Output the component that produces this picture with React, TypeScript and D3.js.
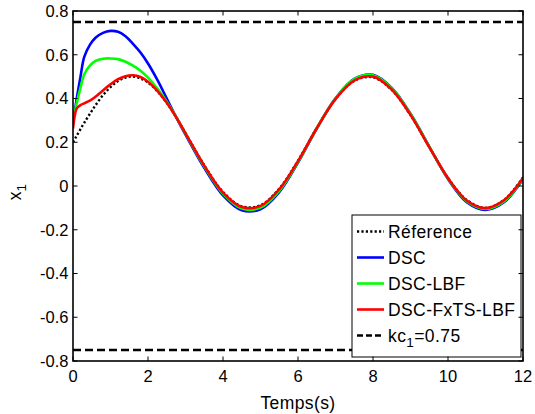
import React from "react";
import * as d3 from "d3";

const timeT = [0, 0.05, 0.1, 0.2, 0.3, 0.45, 0.6, 0.8, 1.0, 1.2, 1.4, 1.6, 1.8, 2.0, 2.25, 2.5, 2.75, 3.0, 3.5, 4.0, 4.5, 5.0, 5.5, 6.0, 6.5, 7.0, 7.5, 8.0, 8.5, 9.0, 9.5, 10.0, 10.5, 11.0, 11.5, 12.0];

const refValues = [0.2, 0.215, 0.23, 0.26, 0.289, 0.33, 0.369, 0.415, 0.452, 0.48, 0.496, 0.5, 0.492, 0.473, 0.433, 0.38, 0.315, 0.242, 0.095, -0.027, -0.093, -0.088, -0.012, 0.116, 0.265, 0.397, 0.481, 0.497, 0.439, 0.324, 0.178, 0.037, -0.064, -0.1, -0.063, 0.039];

const dscValues = [0.3, 0.345, 0.4, 0.5, 0.59, 0.645, 0.678, 0.7, 0.709, 0.705, 0.685, 0.65, 0.61, 0.56, 0.485, 0.4, 0.315, 0.235, 0.083, -0.043, -0.111, -0.106, -0.028, 0.107, 0.263, 0.401, 0.49, 0.508, 0.448, 0.33, 0.18, 0.032, -0.074, -0.109, -0.073, 0.031];

const lbfValues = [0.3, 0.34, 0.38, 0.45, 0.51, 0.55, 0.572, 0.582, 0.583, 0.58, 0.568, 0.55, 0.527, 0.495, 0.445, 0.385, 0.316, 0.24, 0.09, -0.035, -0.103, -0.099, -0.022, 0.11, 0.264, 0.4, 0.488, 0.506, 0.447, 0.329, 0.18, 0.034, -0.07, -0.105, -0.07, 0.033];

const fxtsValues = [0.262, 0.325, 0.355, 0.37, 0.378, 0.39, 0.408, 0.437, 0.465, 0.488, 0.502, 0.506, 0.498, 0.477, 0.435, 0.381, 0.315, 0.241, 0.093, -0.03, -0.096, -0.091, -0.015, 0.114, 0.264, 0.397, 0.482, 0.5, 0.441, 0.325, 0.178, 0.036, -0.066, -0.101, -0.064, 0.037];

const boundValue = 0.75;
const xTicks = [0, 2, 4, 6, 8, 10, 12];
const yTicks = [0.8, 0.6, 0.4, 0.2, 0, -0.2, -0.4, -0.6, -0.8];
const legendLabels = ["Réference", "DSC", "DSC-LBF", "DSC-FxTS-LBF"];

const W = 535, H = 414;
const L = 73, R = 523, T = 11, B = 361;

export default function App() {
  const x = d3.scaleLinear().domain([0, 12]).range([L, R]);
  const y = d3.scaleLinear().domain([-0.8, 0.8]).range([B, T]);
  const line = (vals: number[]) =>
    d3
      .line<number>()
      .x((_, i) => x(timeT[i]))
      .y((v) => y(v))
      .curve(d3.curveCatmullRom.alpha(0.5))(vals) as string;

  const font = "Arial, 'Liberation Sans', Helvetica, sans-serif";
  const series = [
    { vals: refValues, color: "#000", dash: "2.2 2.2", w: 2.4 },
    { vals: dscValues, color: "#0000ff", dash: undefined, w: 2.6 },
    { vals: lbfValues, color: "#00ff00", dash: undefined, w: 2.6 },
    { vals: fxtsValues, color: "#ff0000", dash: undefined, w: 2.6 },
  ];
  const legX = 352, legY = 215, legW = 169, legH = 142;
  const rowY = (i: number) => 231.5 + 26 * i;

  return (
    <svg width={W} height={H} style={{ position: "absolute", left: 0, top: 0, background: "#fff" }} fontFamily={font}>
      <defs>
        <clipPath id="plot">
          <rect x={L} y={T} width={R - L} height={B - T} />
        </clipPath>
      </defs>
      <rect x={0} y={0} width={W} height={H} fill="#fff" />
      <g clipPath="url(#plot)">
        {series.map((s, i) => (
          <path key={i} d={line(s.vals)} fill="none" stroke={s.color} strokeWidth={s.w} strokeDasharray={s.dash} strokeLinejoin="round" />
        ))}
        {[boundValue, -boundValue].map((b, i) => (
          <line key={i} x1={x(0)} x2={x(12)} y1={y(b)} y2={y(b)} stroke="#000" strokeWidth={2.6} strokeDasharray="8 4" />
        ))}
      </g>
      {/* legend */}
      <rect x={legX} y={legY} width={legW} height={legH} fill="#fff" stroke="#000" strokeWidth={1} />
      {series.map((s, i) => (
        <g key={i}>
          <line x1={357} x2={384} y1={rowY(i)} y2={rowY(i)} stroke={s.color} strokeWidth={s.w} strokeDasharray={s.dash} />
          <text x={388} y={rowY(i)} dy="0.36em" fontSize={17.5} letterSpacing={0.4}>{legendLabels[i]}</text>
        </g>
      ))}
      <line x1={357} x2={384} y1={rowY(4)} y2={rowY(4)} stroke="#000" strokeWidth={2.6} strokeDasharray="6 3" />
      <text x={388} y={rowY(4)} dy="0.36em" fontSize={17.5} letterSpacing={0.4}>
        kc<tspan fontSize={13.5} dy={5}>1</tspan><tspan dy={-5}>=0.75</tspan>
      </text>
      {/* axes box */}
      <rect x={L} y={T} width={R - L} height={B - T} fill="none" stroke="#000" strokeWidth={1.6} />
      {xTicks.map((t) => (
        <g key={t}>
          <line x1={x(t)} x2={x(t)} y1={B} y2={B - 4.5} stroke="#000" strokeWidth={1} />
          <line x1={x(t)} x2={x(t)} y1={T} y2={T + 4.5} stroke="#000" strokeWidth={1} />
          <text x={x(t)} y={382} textAnchor="middle" fontSize={16.5}>{t}</text>
        </g>
      ))}
      {yTicks.map((t) => (
        <g key={t}>
          <line x1={L} x2={L + 4.5} y1={y(t)} y2={y(t)} stroke="#000" strokeWidth={1} />
          <line x1={R} x2={R - 4.5} y1={y(t)} y2={y(t)} stroke="#000" strokeWidth={1} />
          <text x={68.5} y={y(t)} dy="0.36em" textAnchor="end" fontSize={16.5}>{t === 0 ? "0" : d3.format(".1f")(t).replace("−", "-")}</text>
        </g>
      ))}
      <text x={(L + R) / 2} y={409} textAnchor="middle" fontSize={17.5} letterSpacing={0.4}>Temps(s)</text>
      <text transform={`translate(21,${(T + B) / 2 + 6}) rotate(-90)`} textAnchor="middle" fontSize={17.5}>
        x<tspan fontSize={13.5} dy={5}>1</tspan>
      </text>
    </svg>
  );
}
